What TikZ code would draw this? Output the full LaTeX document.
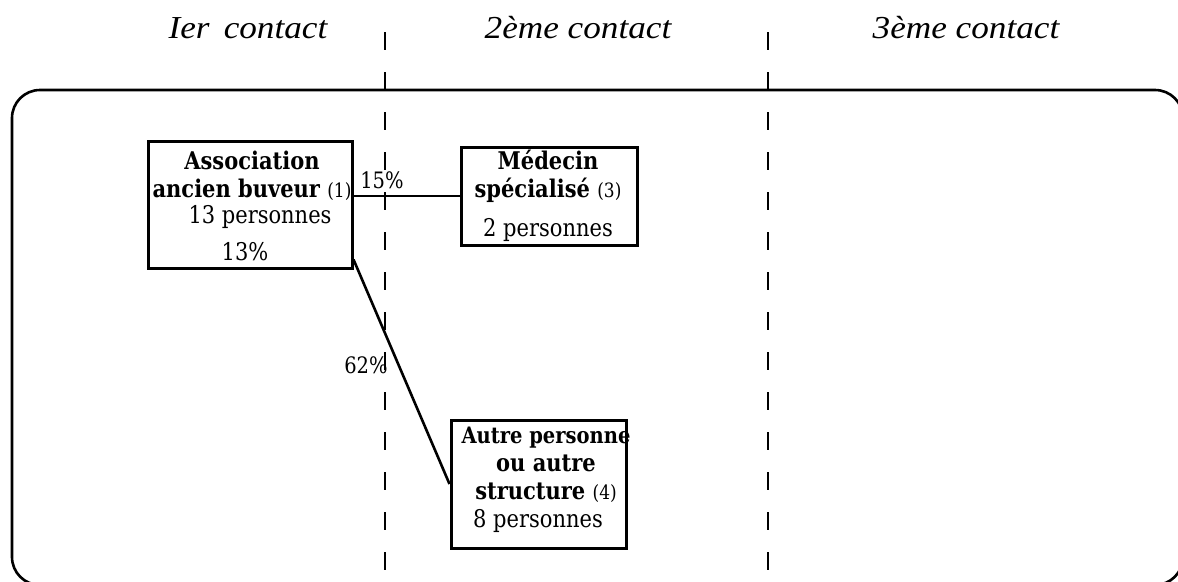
\documentclass[tikz,border=0pt]{standalone}
\usepackage{graphicx}
\usepackage{fontspec}
\setmainfont{DejaVu Serif}
\newfontfamily\headfont{Liberation Serif}[FakeStretch=1.1]
% box lettering is a little taller than the font's own proportions
\newcommand{\tallset}[1]{\scalebox{1}[1.16]{#1}}
\newcommand{\smallnum}[1]{{\mdseries\fontsize{17}{17}\selectfont #1}}
\begin{document}
\begin{tikzpicture}[x=1pt,y=-1pt,
  heading/.style={font=\headfont\itshape\fontsize{32}{32}\selectfont, anchor=base},
  boxstyle/.style={draw, line width=3pt, inner sep=0pt},
  title/.style={font=\bfseries\fontsize{21}{21}\selectfont, anchor=base},
  body/.style={font=\fontsize{21}{21}\selectfont, anchor=base},
  pct/.style={font=\fontsize{19.5}{19.5}\selectfont, anchor=base},
  link/.style={line width=2pt},
  divider/.style={line width=2.2pt, dash pattern=on 18pt off 22pt}]
\useasboundingbox (0,0) rectangle (1178,581);

% column headings
\node[heading] (h1) at (248,38) {Ier\, contact};
\node[heading] (h2) at (578,38) {2ème contact};
\node[heading] (h3) at (966,38) {3ème contact};

% rounded frame (runs past the right and bottom edges)
\draw[line width=2.6pt, rounded corners=28pt] (12,90) rectangle (1183,585);

% column dividers
\coordinate (d1t) at (385,32);
\coordinate (d1b) at (385,578);
\coordinate (d2t) at (768,32);
\coordinate (d2b) at (768,578);
\draw[divider] (d1t) -- (d1b);
\draw[divider] (d2t) -- (d2b);

% boxes
\node[boxstyle, minimum width=204pt, minimum height=127pt] (b1) at (250,204.5) {};
\node[boxstyle, minimum width=176pt, minimum height=98pt] (b2) at (549,196) {};
\node[boxstyle, minimum width=175pt, minimum height=128pt] (b4) at (538.5,484) {};

% box texts
\node[title] (t1a) at (252,169) {\tallset{Association}};
\node[title] (t1b) at (252,197) {\tallset{ancien buveur \smallnum{(1)}}};
\node[body] (t1c) at (260,223) {\tallset{13 personnes}};
\node[body] (t1d) at (245,260) {\tallset{13\%}};

\node[title] (t2a) at (548,169) {\tallset{Médecin}};
\node[title] (t2b) at (548,197) {\tallset{spécialisé \smallnum{(3)}}};
\node[body] (t2c) at (548,236) {\tallset{2 personnes}};

\node[title, font=\bfseries\fontsize{19.5}{19.5}\selectfont] (t4a) at (546,443) {\tallset{Autre personne}};
\node[title] (t4b) at (546,471) {\tallset{ou autre}};
\node[title] (t4c) at (546,499) {\tallset{structure \smallnum{(4)}}};
\node[body] (t4d) at (538,527) {\tallset{8 personnes}};

% links
\draw[link] (b2.west -| b1.east) -- (b2.west);
\draw[line width=2.6pt] ([yshift=10pt]b1.south east) -- (b4.west);

\node[pct] (p15) at (382,188) {\tallset{15\%}};
\node[pct] (p62) at (366,373) {\tallset{62\%}};
\end{tikzpicture}
\end{document}
